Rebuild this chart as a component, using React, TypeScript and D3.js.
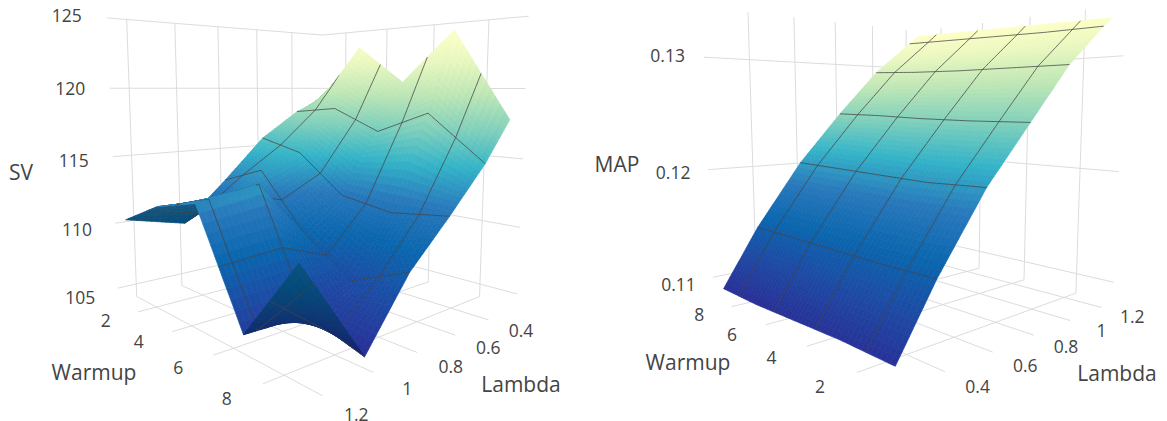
import React from "react";
import * as d3 from "d3";
type C=[number,number,number,number,number];
// camera calibration: axis position -> where the box reads on the page
const leftCal:C[]=[[.72,1.2,125,127,20],[.72,1,125,176,23],[.72,.8,125,218,27],[.72,.6,125,258,30],[.72,.4,125,292,33],[.72,1.2,104,137,297],[.72,1,104,183,285],[.72,1.275,120,109,89],[.72,1.275,115,112,157],[.72,1.275,110,115,223],[.72,1.275,105,117,288],
[2,.21,125,345,32],[4,.21,125,387,29],[6,.21,125,434,24],[8,.21,125,489,19],[9.28,.21,125,528,16],[9.28,.21,120,526,89],[9.28,.21,115,523,160],[9.28,.21,110,519,228],[9.28,.21,105,517,295],[6,.21,104,428,280],[8,.21,104,480,298],
[2,1.275,104,137,312],[4,1.275,104,172,332],[6,1.275,104,213,355],[8,1.275,104,262,383],[9.28,1.2,104,323,394],[9.28,1,104,375,372],[9.28,.8,104,418,353],[9.28,.6,104,455,335],[9.28,.4,104,489,320]];
const rightCal:C[]=[[9.2,.4,.1343,749,15],[9.2,.6,.1343,794,20],[9.2,.8,.1343,835,24],[9.2,1,.1343,872,28],[9.2,1.2,.1343,905,31],[9.2,.22,.13,705,54],[9.2,.22,.12,708,168],[9.2,.22,.11,712,278],
[9.2,.4,.13,750,56],[9.2,1.1,.13,887,63],[9.2,.6,.12,797,161],[2.25,1.28,.13,1077,56],[4.9,1.28,.12,1007,158],[7.5,1.28,.11,953,247],
[8,1.28,.1343,941,29],[6,1.28,.1343,983,24],[4,1.28,.1343,1031,19],[2,1.28,.1343,1085,13],[.73,1.28,.13,1123,53],[.73,1.28,.12,1120,170],[.73,1.28,.11,1114,283],[6,1.28,.1081,978,268],[4,1.28,.1081,1023,280],[2,1.28,.1081,1075,293],
[8,.22,.1081,731,307],[6,.22,.1081,766,326],[4,.22,.1081,808,347],[2,.22,.1081,858,373],[.73,.4,.1081,945,373],[.73,.6,.1081,992,353],[.73,.8,.1081,1032,335],[.73,1,.1081,1069,321],[.73,1.2,.1081,1102,307]];

const warmupNodes=[1,3,5,7,9];
const warmupTicks=[2,4,6,8];
const lambdaTicks=[.4,.6,.8,1,1.2];
const svLambda=[.25,.4,.6,.8,1,1.25];
const svValues=[
 [118.9,123.5,120.5,124.4,117.8],
 [117.9,118.3,116.6,118.2,114.9],
 [115.7,114.8,111.9,111.3,111.8],
 [112.4,113.7,109.7,107.2,108.9],
 [109.3,111.8,113.6,105.8,104.7],
 [110.3,112.0,112.9,105.9,111.2]];
const svTicks=[105,110,115,120,125];
const mapLambda=[.25,.4,.6,.8,1,1.2,1.25];
const mapValues=[
 [.1093,.1093,.1091,.1089,.1089],
 [.1143,.1142,.1142,.1142,.1142],
 [.1200,.1198,.1199,.1200,.1201],
 [.1245,.1245,.1246,.1248,.1249],
 [.1290,.1290,.1290,.1291,.1293],
 [.1324,.1324,.1325,.1326,.1327],
 [.1332,.1333,.1334,.1335,.1336]];
const mapTicks=[.11,.12,.13];

const colorStops=["#282f96","#1d4aa4","#0a66ae","#2878bb","#33b3c8","#80d0bb","#bde6b5","#e8f7bf","#ffffc8"];

function solve(A:number[][],b:number[]){const n=b.length;const M=A.map((r,i)=>[...r,b[i]]);for(let i=0;i<n;i++){let p=i;for(let k=i+1;k<n;k++)if(Math.abs(M[k][i])>Math.abs(M[p][i]))p=k;[M[i],M[p]]=[M[p],M[i]];for(let k=i+1;k<n;k++){const f=M[k][i]/M[i][i];for(let j=i;j<=n;j++)M[k][j]-=f*M[i][j];}}const x=new Array(n).fill(0);for(let i=n-1;i>=0;i--){let s=M[i][n];for(let j=i+1;j<n;j++)s-=M[i][j]*x[j];x[i]=s/M[i][i];}return x;}
function calib(c:C[],zs:number){const N=11;const A=Array.from({length:N},()=>new Array(N).fill(0));const b=new Array(N).fill(0);
 for(const [w,l,z,px,py] of c){const X=w/10,Y=l,Z=z*zs;const u=px/500,v=py/500;
 const r1=[X,Y,Z,1,0,0,0,0,-u*X,-u*Y,-u*Z];const r2=[0,0,0,0,X,Y,Z,1,-v*X,-v*Y,-v*Z];
 for(const [r,t] of [[r1,u],[r2,v]] as any){for(let i=0;i<N;i++){b[i]+=r[i]*t;for(let j=0;j<N;j++)A[i][j]+=r[i]*r[j];}}}
 const s=solve(A,b);
 return (w:number,l:number,z:number)=>{const X=w/10,Y=l,Z=z*zs;const d=s[8]*X+s[9]*Y+s[10]*Z+1;return [500*(s[0]*X+s[1]*Y+s[2]*Z+s[3])/d,500*(s[4]*X+s[5]*Y+s[6]*Z+s[7])/d,d];};}

type Cfg={cal:C[];zs:number;lam:number[];vals:number[][];zTicks:number[];zFmt:(z:number)=>string;
 wDom:[number,number];lDom:[number,number];zDom:[number,number];wallW:number;wallL:number;edgeW:number;edgeL:number;
 dl:number;dw:number;dzl:number;zTitle:[string,number,number];wTitle:[number,number];lTitle:[number,number]};

const FONT="'Open Sans', sans-serif";
function Chart({c}:{c:Cfg}){
 const P=calib(c.cal,c.zs);
 const flat=c.vals.flat();
 const [zlo,zhi]=d3.extent(flat) as [number,number];
 const color=d3.scaleLinear<string>().domain(colorStops.map((_,i)=>zlo+(zhi-zlo)*i/(colorStops.length-1))).range(colorStops).interpolate(d3.interpolateRgb).clamp(true);
 const W=warmupNodes,L=c.lam;
 const zAt=(i:number,j:number,u:number,v:number)=>{const a=c.vals[j][i],b=c.vals[j][i+1],e=c.vals[j+1][i],f=c.vals[j+1][i+1];return (1-u)*(1-v)*a+u*(1-v)*b+(1-u)*v*e+u*v*f;};
 const bil=(w:number,l:number)=>{const i=Math.min(W.length-2,Math.max(0,d3.bisectRight(W,w)-1)),j=Math.min(L.length-2,Math.max(0,d3.bisectRight(L,l)-1));return zAt(i,j,(w-W[i])/(W[i+1]-W[i]),(l-L[j])/(L[j+1]-L[j]));};
 const grid:[number[],number[]][]=[];
 const [w0,w1]=c.wDom,[l0,l1]=c.lDom,[z0,z1]=c.zDom;
 const seg=(a:number[],b:number[]):[number[],number[]]=>[P(a[0],a[1],a[2]),P(b[0],b[1],b[2])];
 c.zTicks.forEach(z=>{grid.push(seg([c.wallW,l0,z],[c.wallW,l1,z]));grid.push(seg([w0,c.wallL,z],[w1,c.wallL,z]));});
 lambdaTicks.forEach(l=>{grid.push(seg([c.wallW,l,z0],[c.wallW,l,z1]));grid.push(seg([w0,l,z0],[w1,l,z0]));});
 warmupTicks.forEach(w=>{grid.push(seg([w,c.wallL,z0],[w,c.wallL,z1]));grid.push(seg([w,l0,z0],[w,l1,z0]));});
 const items:{d:number;el:any}[]=[];
 const N=12;
 const raw:{d:number;path:string;fill:string}[]=[];
 for(let j=0;j<L.length-1;j++)for(let i=0;i<W.length-1;i++)for(let a=0;a<N;a++)for(let b=0;b<N;b++){
  const cs=[[a,b],[a+1,b],[a+1,b+1],[a,b+1]].map(([p,q])=>{const u=p/N,v=q/N;const wv=W[i]+u*(W[i+1]-W[i]),lv=L[j]+v*(L[j+1]-L[j]);return {wv,lv,z:zAt(i,j,u,v)};});
  const pts=cs.map(k=>P(k.wv,k.lv,k.z));
  const flatPts=cs.map(k=>P(k.wv,k.lv,z0));
  const area=(q:number[][])=>q.reduce((s,p,n)=>{const r=q[(n+1)%4];return s+p[0]*r[1]-r[0]*p[1];},0);
  const back=area(pts)*area(flatPts)<0;
  const zm=d3.mean(cs,k=>k.z)!;
  let fill=color(zm);
  if(back){const h=d3.rgb(fill);fill=d3.rgb(h.r*.5,h.g*.74,h.b*.7).formatHex();}
  raw.push({d:d3.mean(pts,p=>p[2])!,path:"M"+pts.map(p=>p[0].toFixed(1)+","+p[1].toFixed(1)).join("L")+"Z",fill});
 }
 const [dlo,dhi]=d3.extent(raw,r=>r.d) as [number,number];
 const bias=(dhi-dlo)*.02;
 raw.forEach((r,k)=>items.push({d:r.d,el:<path key={"q"+k} d={r.path} fill={r.fill} stroke={r.fill} strokeWidth={.7} strokeLinejoin="round"/>}));
 const lines:[number,number][][]=[];
 warmupTicks.forEach(w=>lines.push(d3.range(0,61).map(k=>[w,L[0]+(L[L.length-1]-L[0])*k/60] as [number,number])));
 lambdaTicks.forEach(l=>lines.push(d3.range(0,61).map(k=>[1+8*k/60,l] as [number,number])));
 let key=0;
 lines.forEach(ln=>{for(let k=0;k<ln.length-1;k++){const a=P(ln[k][0],ln[k][1],bil(ln[k][0],ln[k][1])),b=P(ln[k+1][0],ln[k+1][1],bil(ln[k+1][0],ln[k+1][1]));
  items.push({d:(a[2]+b[2])/2-bias,el:<line key={"c"+key++} x1={a[0]} y1={a[1]} x2={b[0]} y2={b[1]} stroke="#444" strokeOpacity={.85} strokeWidth={.9}/>});}});
 items.sort((x,y)=>y.d-x.d);
 const label=(t:string,p:number[],k:string)=><text key={k} x={p[0]} y={p[1]} textAnchor="middle" dominantBaseline="central" fontSize={17.5} fill="#444" fontFamily={FONT}>{t}</text>;
 const title=(t:string,x:number,y:number)=><text key={t} x={x} y={y} textAnchor="middle" dominantBaseline="central" fontSize={21} fill="#444" fontFamily={FONT}>{t}</text>;
 const lamEdge=c.edgeL,wEdge=c.edgeW;
 return <g>
  {grid.map((g,i)=><line key={i} x1={g[0][0]} y1={g[0][1]} x2={g[1][0]} y2={g[1][1]} stroke="#dcdcdc" strokeWidth={1}/>)}
  {items.map(i=>i.el)}
  {warmupTicks.map(w=>label(String(w),P(w,lamEdge+c.dl,z0),"w"+w))}
  {lambdaTicks.map(l=>label(String(l),P(wEdge+c.dw,l,z0),"l"+l))}
  {c.zTicks.map(z=>label(c.zFmt(z),P(c.wallW,lamEdge+c.dzl,z),"z"+z))}
  {title(c.zTitle[0],c.zTitle[1],c.zTitle[2])}
  {title("Warmup",c.wTitle[0],c.wTitle[1])}
  {title("Lambda",c.lTitle[0],c.lTitle[1])}
 </g>;
}
const leftCfg:Cfg={cal:leftCal,zs:.05,lam:svLambda,vals:svValues,zTicks:svTicks,zFmt:z=>String(z),wDom:[.72,9.28],lDom:[.21,1.275],zDom:[104,125],wallW:.72,wallL:.21,edgeW:9.28,edgeL:1.275,dl:.12,dw:1,dzl:.145,zTitle:["SV",21,172],wTitle:[94,372],lTitle:[521,384]};
const rightCfg:Cfg={cal:rightCal,zs:10,lam:mapLambda,vals:mapValues,zTicks:mapTicks,zFmt:z=>z.toFixed(2),wDom:[.73,9.2],lDom:[.22,1.28],zDom:[.1081,.1343],wallW:9.2,wallL:1.28,edgeW:.73,edgeL:.22,dl:-.12,dw:-.95,dzl:-.13,zTitle:["MAP",617,164],wTitle:[688,362],lTitle:[1117,373]};
export default function App(){
 return <svg width={1167} height={421} style={{position:"absolute",left:0,top:0,display:"block",background:"#fff"}}>
  <Chart c={leftCfg}/><Chart c={rightCfg}/>
 </svg>;
}
